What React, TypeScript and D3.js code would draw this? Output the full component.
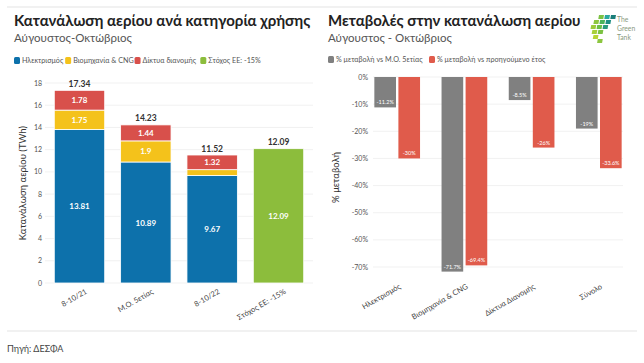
import React from "react";
import * as d3 from "d3";

const leftCategories = ["8-10/21", "M.O. 5ετίας", "8-10/22", "Στόχος ΕΕ: -15%"];
const electricity = [13.81, 10.89, 9.67, 0];
const industry = [1.75, 1.9, 0.53, 0];
const networks = [1.78, 1.44, 1.32, 0];
const target = [0, 0, 0, 12.09];
const totals = [17.34, 14.23, 11.52, 12.09];
const leftTicks = [0, 2, 4, 6, 8, 10, 12, 14, 16, 18];

const rightCategories = ["Ηλεκτρισμός", "Βιομηχανία & CNG", "Δίκτυα Διανομής", "Σύνολο"];
const vsAvg = [-11.2, -71.7, -8.5, -19];
const vsPrev = [-30, -69.4, -26, -33.6];
const rightTicks = [0, -10, -20, -30, -40, -50, -60, -70];

const C_BLUE = "#0d71ab";
const C_YELLOW = "#f4c21b";
const C_RED = "#d8504b";
const C_GREEN = "#8cbd3c";
const C_GRAY = "#808080";
const C_RED2 = "#e05b4b";
const FONT = "Lato, 'Open Sans', sans-serif";

export default function App() {
  const W = 644, H = 363;
  const lx = d3.scaleBand().domain(leftCategories).range([45, 313]).paddingInner(0.24).paddingOuter(0.14);
  const ly = d3.scaleLinear().domain([0, 18]).range([283, 83]);
  const colors = [C_BLUE, C_YELLOW, C_RED, C_GREEN];
  const stackData = leftCategories.map((c, i) => ({
    cat: c,
    el: electricity[i],
    in: industry[i],
    ne: networks[i],
    ta: target[i],
  }));
  const stacked = d3.stack<any>().keys(["el", "in", "ne", "ta"])(stackData);

  const rx = d3.scaleBand().domain(rightCategories).range([373, 623]).paddingInner(0.32).paddingOuter(0.02);
  const rsub = d3.scaleBand().domain(["a", "p"]).range([0, rx.bandwidth()]).paddingInner(0.1);
  const ry = d3.scaleLinear().domain([0, -70]).range([77, 267]);

  const legendLeft = [
    { label: "Ηλεκτρισμός", color: C_BLUE },
    { label: "Βιομηχανία & CNG", color: C_YELLOW },
    { label: "Δίκτυα διανομής", color: C_RED },
    { label: "Στόχος ΕΕ: -15%", color: C_GREEN },
  ];
  const legendRight = [
    { label: "% μεταβολή vs M.O. 5ετίας", color: C_GRAY },
    { label: "% μεταβολή vs προηγούμενο έτος", color: C_RED2 },
  ];

  const legendPos = (items: { label: string }[], x0: number, cw: number) => {
    let x = x0;
    return items.map((it) => {
      const pos = x;
      x += 11 + it.label.length * cw;
      return pos;
    });
  };
  const llp = legendPos(legendLeft, 14, 3.65);
  const lrp = legendPos(legendRight, 328, 3.6);

  return (
    <svg width={W} height={H} style={{ position: "absolute", left: 0, top: 0, background: "#fff", fontFamily: FONT }}>
      <rect x={0} y={0} width={W} height={H} fill="#fff" />
      <line x1={7} x2={637} y1={7} y2={7} stroke="#ececec" strokeWidth={1.5} />
      <line x1={7} x2={637} y1={331} y2={331} stroke="#ececec" strokeWidth={1.5} />
      <text x={7} y={352} fontSize={9} fill="#444">Πηγή: ΔΕΣΦΑ</text>

      <text x={14} y={26} fontSize={15} fontWeight={700} fill="#222">Κατανάλωση αερίου ανά κατηγορία χρήσης</text>
      <text x={14} y={42} fontSize={11.5} fill="#555">Αύγουστος-Οκτώβριος</text>
      {legendLeft.map((it, i) => (
        <g key={it.label} transform={`translate(${llp[i]},63)`}>
          <rect x={0} y={-6} width={6} height={7} rx={1.5} fill={it.color} />
          <text x={8} y={0} fontSize={7.2} fill="#555">{it.label}</text>
        </g>
      ))}

      {leftTicks.map((t) => (
        <g key={t}>
          <line x1={45} x2={313} y1={ly(t)} y2={ly(t)} stroke="#eeeeee" strokeWidth={0.8} />
          <text x={42} y={ly(t) + 2.5} fontSize={7} fill="#555" textAnchor="end">{t}</text>
        </g>
      ))}
      <text transform={`translate(26,${ly(9)}) rotate(-90)`} fontSize={9.5} fill="#333" textAnchor="middle">Κατανάλωση αερίου (TWh)</text>

      {stacked.map((layer, li) =>
        layer.map((d, i) => {
          const h = ly(d[0]) - ly(d[1]);
          if (h <= 0) return null;
          const x = lx(leftCategories[i])!;
          const v = d[1] - d[0];
          return (
            <g key={`${li}-${i}`}>
              <rect x={x} y={ly(d[1])} width={lx.bandwidth()} height={h} fill={colors[li]} stroke="#fff" strokeWidth={0.8} />
              {h > 10 && (
                <text x={x + lx.bandwidth() / 2} y={(ly(d[0]) + ly(d[1])) / 2 + 3} fontSize={8} fontWeight={700} fill="#fff" textAnchor="middle">
                  {String(Math.round(v * 100) / 100)}
                </text>
              )}
            </g>
          );
        })
      )}
      {totals.map((t, i) => (
        <text key={i} x={lx(leftCategories[i])! + lx.bandwidth() / 2} y={ly(t) - 3.5} fontSize={8.5} fontWeight={700} fill="#333" textAnchor="middle">{t}</text>
      ))}
      {leftCategories.map((c) => (
        <text key={c} transform={`translate(${lx(c)! + lx.bandwidth() / 2 + 8},${293}) rotate(-30)`} fontSize={7.5} fill="#444" textAnchor="end">{c}</text>
      ))}

      <text x={328} y={26} fontSize={15} fontWeight={700} fill="#222">Μεταβολές στην κατανάλωση αερίου</text>
      <text x={328} y={42} fontSize={11.5} fill="#555">Αύγουστος - Οκτώβριος</text>
      {legendRight.map((it, i) => (
        <g key={it.label} transform={`translate(${lrp[i]},62)`}>
          <rect x={0} y={-6} width={6} height={7} rx={1.5} fill={it.color} />
          <text x={8} y={0} fontSize={7.2} fill="#555">{it.label}</text>
        </g>
      ))}

      <g transform="translate(589,15)">
        {[
          [10, 0, "#7cc242"], [16, 0, "#2aa8a0"], [22, 0, "#1a7e7a"],
          [6, 5, "#8cc63f"], [12, 5, "#4cb45a"], [18, 5, "#1f8f84"],
          [4, 10, "#9ccb3b"], [10, 10, "#6cbf45"], [16, 10, "#2a9a7e"],
          [6, 15, "#a8cf3a"], [12, 15, "#7cc242"],
          [8, 20, "#b5d334"], [13, 24, "#8cc63f"],
        ].map(([x, y, c], i) => (
          <rect key={i} x={x as number} y={y as number} width={5} height={4} fill={c as string} transform="skewX(-10)" />
        ))}
        <text x={28} y={7} fontSize={6.8} fill="#8a9a80">The</text>
        <text x={28} y={16} fontSize={6.8} fill="#8a9a80">Green</text>
        <text x={28} y={25} fontSize={6.8} fill="#8a9a80">Tank</text>
      </g>

      {rightTicks.map((t) => (
        <g key={t}>
          <line x1={373} x2={623} y1={ry(t)} y2={ry(t)} stroke="#eeeeee" strokeWidth={0.8} />
          <text x={368} y={ry(t) + 2.5} fontSize={7} fill="#555" textAnchor="end">{t}%</text>
        </g>
      ))}
      <text transform={`translate(339,${ry(-37)}) rotate(-90)`} fontSize={9.5} fill="#333" textAnchor="middle">% μεταβολή</text>
      {rightCategories.map((c, i) => {
        const x0 = rx(c)!;
        const bars = [
          { k: "a", v: vsAvg[i], color: C_GRAY },
          { k: "p", v: vsPrev[i], color: C_RED2 },
        ];
        return (
          <g key={c}>
            {bars.map((b) => {
              const x = x0 + rsub(b.k)!;
              const w = rsub.bandwidth();
              return (
                <g key={b.k}>
                  <rect x={x} y={ry(0)} width={w} height={ry(b.v) - ry(0)} fill={b.color} />
                  <text x={x + w / 2} y={ry(b.v) - 3} fontSize={5.5} fill="#fff" textAnchor="middle">{b.v}%</text>
                </g>
              );
            })}
            <text transform={`translate(${x0 + rx.bandwidth() / 2 + 4},${288}) rotate(-30)`} fontSize={7.5} fill="#444" textAnchor="end">{c}</text>
          </g>
        );
      })}
    </svg>
  );
}
